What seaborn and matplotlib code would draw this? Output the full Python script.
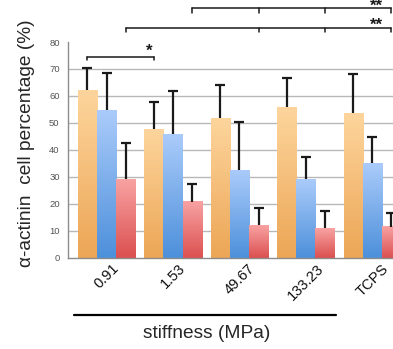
import numpy as np
import pandas as pd
import seaborn as sns
import matplotlib.pyplot as plt
from matplotlib.colors import LinearSegmentedColormap
from matplotlib.lines import Line2D

stiffness = ['0.91', '1.53', '49.67', '133.23', 'TCPS']
series = ['A', 'B', 'C']
vals_a = [62.2, 47.7, 51.8, 55.8, 53.6]
vals_b = [54.7, 45.9, 32.5, 29.1, 35.0]
vals_c = [29.1, 20.8, 12.1, 10.9, 11.5]
err_a = [8.3, 10.0, 12.4, 11.0, 14.4]
err_b = [13.9, 15.8, 17.9, 8.4, 9.7]
err_c = [13.6, 6.5, 6.2, 6.4, 5.0]

df = pd.DataFrame({
    'stiffness': stiffness * 3,
    'series': np.repeat(series, len(stiffness)),
    'value': vals_a + vals_b + vals_c,
})

sns.set_style('white')
plt.rcParams['font.family'] = ['Liberation Sans', 'DejaVu Sans']

fig = plt.figure(figsize=(3.93, 3.49), dpi=100)
ax = fig.add_axes([0.173, 0.2616, 0.827, 0.618])
sns.barplot(data=df, x='stiffness', y='value', hue='series', order=stiffness,
            hue_order=series, width=0.86, gap=0, errorbar=None, legend=False, ax=ax)

# gradient fills (light top -> dark bottom)
grads = [('#fdd59c', '#eca656'), ('#aacbfa', '#4d90db'), ('#f8a2a2', '#dc5050')]
grad = np.linspace(0, 1, 100).reshape(-1, 1)
for cont, (top, bot) in zip(ax.containers, grads):
    cmap = LinearSegmentedColormap.from_list('g', [bot, top])
    for bar in cont:
        x0, y0, w, h = bar.get_x(), bar.get_y(), bar.get_width(), bar.get_height()
        bar.set_facecolor('none')
        bar.set_edgecolor('none')
        ax.imshow(grad, cmap=cmap, origin='lower', aspect='auto',
                  extent=[x0, x0 + w, y0, y0 + h], zorder=2)

# error bars, upward only
for cont, errs in zip(ax.containers, [err_a, err_b, err_c]):
    xs = [b.get_x() + b.get_width() / 2 for b in cont]
    ys = [b.get_height() for b in cont]
    eb = ax.errorbar(xs, ys, yerr=[np.zeros(len(errs)), errs], fmt='none',
                     ecolor='#1a1a1a', elinewidth=1.6, capsize=3.3, capthick=1.6, zorder=3)
    eb[1][0].set_visible(False)

ax.set_xlim(-0.58, 4.31)
ax.set_ylim(0, 80)
ax.set_yticks(range(0, 81, 10))
for v in range(10, 80, 10):
    ax.axhline(v, color='#b8b8b8', lw=1, zorder=0)

for s in ['top', 'right']:
    ax.spines[s].set_visible(False)
for s in ['left', 'bottom']:
    ax.spines[s].set_color('#8c8c8c')
    ax.spines[s].set_linewidth(1)
ax.tick_params(axis='y', length=3, color='#8c8c8c', labelsize=6.8, labelcolor='#555555', pad=3)
ax.tick_params(axis='x', length=0, labelsize=10.5, labelcolor='#111111', pad=2.5)
for lab in ax.get_xticklabels():
    lab.set_rotation(45)
    lab.set_ha('center')

ax.set_ylabel('α-actinin  cell percentage (%)', fontsize=13.8)
ax.yaxis.set_label_coords(-0.10, 0.532)
ax.set_xlabel('stiffness (MPa)', fontsize=13.8)
ax.xaxis.set_label_coords(0.428, -0.313)

# significance brackets
ca, cc = ax.containers[0], ax.containers[2]
xa = [b.get_x() + b.get_width() / 2 for b in ca]
xc = [b.get_x() + b.get_width() / 2 for b in cc]


def bracket(xs, y, tick):
    ax.plot([xs[0], xs[-1]], [y, y], color='#1a1a1a', lw=1.1, clip_on=False)
    for x in xs:
        ax.plot([x, x], [y, y - tick], color='#1a1a1a', lw=1.1, clip_on=False)


star_kw = dict(ha='center', va='baseline', fontsize=12, fontweight='bold', color='#1a1a1a')
bracket([xa[0], xa[1]], 74.6, 1.3)
ax.text(xa[1] - 0.07, 74.9, '*', **star_kw)
bracket([xc[0], xc[2], xc[3], xc[4]], 85.3, 1.7)
ax.text(xc[4] - 0.23, 84.4, '**', **star_kw)
bracket([xc[1], xc[2], xc[3], xc[4]], 92.5, 1.8)
ax.text(xc[4] - 0.23, 91.6, '**', **star_kw)

fig.add_artist(Line2D([74 / 393, 336 / 393], [1 - 315 / 349] * 2, color='black', lw=1.6))

fig.savefig('out.png', dpi=100)
